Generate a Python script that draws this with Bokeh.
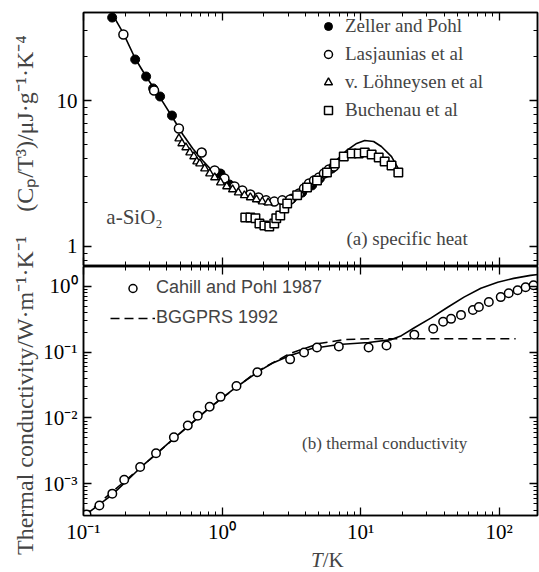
import math
from bokeh.plotting import figure
from bokeh.models import (Range1d, LogAxis, FixedTicker, CustomJSTickFormatter,
                          BasicTickFormatter, Label, Legend, LegendItem)
from bokeh.layouts import row, column
from bokeh.embed import file_html
from bokeh.resources import INLINE

SERIF = "Liberation Serif"
SANS = "Liberation Sans"

# ---------------- data: (a) specific heat C_p/T^3 ----------------
zp_T = [0.161, 0.236, 0.283, 0.318, 0.357, 0.435, 0.913, 0.975, 1.13, 3.20, 3.78, 4.46, 5.08, 5.71, 6.20]
zp_C = [37.0, 19.1, 14.6, 12.1, 10.65, 7.89, 3.21, 3.16, 2.66, 2.13, 2.34, 2.62, 2.92, 3.21, 3.42]

las_T = [0.194, 0.323, 0.488, 0.713, 0.884, 1.04, 1.23, 1.40, 1.60, 1.83, 2.08, 2.38, 2.72, 3.10,
         3.59, 3.90, 4.24, 4.61, 5.00, 5.43, 5.90, 6.41]
las_C = [28.3, 11.7, 6.43, 4.40, 3.32, 2.92, 2.58, 2.42, 2.27, 2.17, 2.07, 2.03, 2.07, 2.10,
         2.31, 2.50, 2.70, 2.83, 2.97, 3.16, 3.37, 3.53]

loh_T = [0.488, 0.513, 0.548, 0.585, 0.625, 0.657, 0.690, 0.749, 0.814, 0.884, 0.975, 1.08,
         1.19, 1.31, 1.45, 1.60, 1.77, 1.95, 2.15]
loh_C = [5.49, 5.08, 4.77, 4.40, 4.14, 3.82, 3.70, 3.42, 3.16, 2.97, 2.74, 2.58,
         2.46, 2.34, 2.24, 2.17, 2.10, 2.03, 2.00]

buc_T = [1.47, 1.60, 1.74, 1.86, 2.02, 2.19, 2.38, 2.46, 2.63, 2.81, 2.95, 3.48, 4.10, 4.84,
         5.71, 6.51, 7.55, 8.62, 9.68, 10.7, 12.0, 13.5, 14.9, 16.7, 18.7]
buc_C = [1.58, 1.58, 1.56, 1.44, 1.39, 1.37, 1.44, 1.56, 1.63, 1.82, 1.97, 2.24, 2.54, 2.83,
         3.21, 3.70, 4.14, 4.34, 4.34, 4.40, 4.27, 4.07, 3.82, 3.59, 3.21]

fitC_T = [0.159, 0.194, 0.236, 0.283, 0.356, 0.435, 0.521, 0.614, 0.724, 0.898, 1.09, 1.40,
          1.80, 2.30, 2.95, 3.78, 4.84, 6.20, 7.94, 9.36, 10.7, 12.4, 14.1, 16.7, 19.0]
fitC_C = [40.1, 28.8, 19.4, 14.6, 10.5, 7.77, 5.85, 4.69, 3.88, 3.11, 2.66, 2.31,
          2.10, 2.03, 2.10, 2.34, 2.83, 3.64, 4.55, 5.08, 5.32, 5.24, 4.84, 4.13, 3.32]

# ---------------- data: (b) thermal conductivity ----------------
cp_T = [0.1051, 0.1302, 0.1614, 0.1967, 0.2563, 0.3337, 0.449, 0.5657, 0.6675, 0.8135, 0.9754,
        1.270, 1.797, 3.097, 3.904, 4.838, 6.955, 11.41, 15.36, 24.39, 33.38, 39.36, 44.91,
        52.97, 64.57, 71.29, 84.10, 102.5, 117.0, 135.7, 154.9, 176.7]
cp_k = [3.44e-4, 4.70e-4, 7.11e-4, 1.152e-3, 1.805e-3, 2.925e-3, 5.08e-3, 7.69e-3, 1.086e-2,
        1.483e-2, 2.094e-2, 3.06e-2, 4.96e-2, 7.77e-2, 9.90e-2, 0.1176, 0.1217, 0.1176, 0.126,
        0.1842, 0.2266, 0.2886, 0.320, 0.3674, 0.4367, 0.4843, 0.5757, 0.684, 0.785, 0.871,
        0.966, 1.035]

fitK_T = [0.1, 0.1614, 0.2563, 0.449, 0.8135, 1.270, 1.797, 2.301, 3.097, 4.455, 6.955, 11.41,
          16.68, 19.68, 24.39, 32.28, 42.74, 55.67, 73.68, 97.54, 127.1, 168.2, 191.9]
fitK_k = [3.21e-4, 6.86e-4, 1.743e-3, 4.91e-3, 1.432e-2, 2.957e-2, 4.96e-2, 6.77e-2, 8.92e-2,
          0.1136, 0.1304, 0.1397, 0.155, 0.178, 0.2346, 0.3313, 0.4843, 0.684, 0.933, 1.148,
          1.318, 1.462, 1.513]

bg_T = [0.1, 0.2563, 0.8135, 1.797, 3.097, 5.00, 7.679, 11.41, 131.3]
bg_k = [3.21e-4, 1.743e-3, 1.432e-2, 0.0513, 0.0956, 0.135, 0.155, 0.160, 0.160]

# ---------------- tick definitions ----------------
x_major = [0.1, 1, 10, 100]
x_minor = [m * 10.0 ** e for e in range(-1, 3) for m in range(2, 10)]
ya_major = [1, 10]
ya_minor = [m * 10.0 ** e for e in range(-1, 2) for m in range(2, 10)]
yb_major = [1e-3, 1e-2, 1e-1, 1]
yb_minor = [m * 10.0 ** e for e in range(-4, 1) for m in range(2, 10)]

POW_CODE = """
const sup = {"-": "\u207b", "0": "\u2070", "1": "\u00b9", "2": "\u00b2", "3": "\u00b3", "4": "\u2074"};
const e = Math.round(Math.log10(tick));
return "10" + String(e).split("").map(c => sup[c]).join("");
"""

X_RANGE = (0.1, 188.8)
YB_RANGE = (3.31e-4, 1.995)


def style_axis(ax, show_labels, font_size="21px"):
    ax.major_tick_in = 8
    ax.major_tick_out = 0
    ax.minor_tick_in = 4
    ax.minor_tick_out = 0
    ax.axis_line_color = "black"
    ax.axis_line_width = 1.5
    ax.major_tick_line_color = "black"
    ax.major_tick_line_width = 1.3
    ax.minor_tick_line_color = "black"
    ax.minor_tick_line_width = 1
    if show_labels:
        ax.major_label_text_font = SERIF
        ax.major_label_text_font_size = font_size
        ax.major_label_text_color = "black"
    else:
        ax.formatter = CustomJSTickFormatter(code="return '';")
        ax.major_label_text_font_size = "2px"
        ax.major_label_standoff = 0


def make_panel(height, y_range, yticker, yfmt, top_border, bottom_border, xlabels):
    p = figure(width=499, height=height, x_axis_type="log", y_axis_type="log",
               x_range=Range1d(*X_RANGE), y_range=Range1d(*y_range),
               toolbar_location=None, output_backend="svg",
               min_border_left=40, min_border_right=2,
               min_border_top=top_border, min_border_bottom=bottom_border)
    p.title.visible = False
    p.grid.visible = False
    p.outline_line_color = "black"
    p.outline_line_width = 1.5
    xt = FixedTicker(ticks=x_major, minor_ticks=x_minor)
    xa = p.xaxis[0]
    xa.ticker = xt
    xa.formatter = CustomJSTickFormatter(code=POW_CODE)
    style_axis(xa, xlabels)
    if xlabels:
        xa.major_label_standoff = 4
    ya = p.yaxis[0]
    ya.ticker = yticker
    ya.formatter = yfmt
    style_axis(ya, True)
    ya.major_label_standoff = 6
    ax_r = LogAxis(ticker=yticker)
    style_axis(ax_r, False)
    p.add_layout(ax_r, "right")
    ax_t = LogAxis(ticker=xt)
    style_axis(ax_t, False)
    p.add_layout(ax_t, "above")
    return p


def blank_fig(w, h):
    f = figure(width=w, height=h, x_range=Range1d(0, w), y_range=Range1d(0, h),
               toolbar_location=None, output_backend="svg",
               x_axis_location=None, y_axis_location=None, min_border=0)
    f.title.visible = False
    f.grid.visible = False
    f.outline_line_color = None
    return f


# ---------------- panel (a) ----------------
pa = make_panel(266, (0.741, 40.07), FixedTicker(ticks=ya_major, minor_ticks=ya_minor),
                BasicTickFormatter(), 12, 1, False)

pa.line(fitC_T, fitC_C, line_color="black", line_width=1.6)
r_zp = pa.scatter(zp_T, zp_C, marker="circle", size=9, fill_color="black", line_color="black")
r_las = pa.scatter(las_T, las_C, marker="circle", size=9, fill_color="white",
                   line_color="black", line_width=1.5)
r_loh = pa.scatter(loh_T, loh_C, marker="triangle", size=8, fill_color="white",
                   line_color="black", line_width=1.4)
r_buc = pa.scatter(buc_T, buc_C, marker="square", size=8.5, fill_color="white",
                   line_color="black", line_width=1.5)

leg_a = Legend(items=[LegendItem(label="Zeller and Pohl", renderers=[r_zp]),
                      LegendItem(label="Lasjaunias et al", renderers=[r_las]),
                      LegendItem(label="v. Löhneysen et al", renderers=[r_loh]),
                      LegendItem(label="Buchenau et al", renderers=[r_buc])],
               location=(235, 144), padding=0, margin=0, spacing=6,
               glyph_width=20, glyph_height=20, label_height=20, label_standoff=7,
               label_text_font=SERIF, label_text_font_size="19px",
               background_fill_alpha=0, border_line_alpha=0)
pa.add_layout(leg_a)

pa.add_layout(Label(x=0.1462, y=1.58, text="a-SiO\u2082", text_font=SERIF,
                    text_font_size="21px", text_baseline="middle"))
pa.add_layout(Label(x=7.9, y=1.134, text="(a)  specific  heat", text_font=SERIF,
                    text_font_size="19px", text_baseline="middle"))

# ---------------- panel (b) ----------------
pb = make_panel(280, YB_RANGE, FixedTicker(ticks=yb_major, minor_ticks=yb_minor),
                CustomJSTickFormatter(code=POW_CODE), 0, 28, True)

r_bg = pb.line(bg_T, bg_k, line_color="black", line_width=1.5, line_dash="9 5")
pb.line(fitK_T, fitK_k, line_color="black", line_width=1.6)
r_cp = pb.scatter(cp_T, cp_k, marker="circle", size=8.5, fill_color="white",
                  line_color="black", line_width=1.5)

leg_b = Legend(items=[LegendItem(label="Cahill and Pohl 1987", renderers=[r_cp]),
                      LegendItem(label="BGGPRS 1992", renderers=[r_bg])],
               location=(27, 187), padding=0, margin=0, spacing=9,
               glyph_width=45, glyph_height=20, label_height=20, label_standoff=1,
               label_text_font=SANS, label_text_font_size="18px",
               background_fill_alpha=0, border_line_alpha=0)
pb.add_layout(leg_b)

pb.add_layout(Label(x=3.78, y=4.13e-3, text="(b)  thermal  conductivity", text_font=SERIF,
                    text_font_size="17px", text_baseline="middle"))

# ---------------- x-axis title strip ("T/K") ----------------
ptk = blank_fig(499, 26)
ptk.add_layout(Label(x=263, y=13, text="T", text_font=SERIF, text_font_style="italic",
                     text_font_size="21px", text_align="right", text_baseline="middle"))
ptk.add_layout(Label(x=263, y=13, text="/K", text_font=SERIF,
                     text_font_size="21px", text_align="left", text_baseline="middle"))

# ---------------- y-axis titles column ----------------
pl = blank_fig(40, 572)
pl.add_layout(Label(x=24, y=449, angle=math.pi / 2,
                    text="(C\u209a/T\u00b3)/\u03bcJ\u00b7g\u207b\u00b9\u00b7K\u207b\u2074",
                    text_font=SERIF, text_font_size="24px",
                    text_align="center", text_baseline="middle"))
pl.add_layout(Label(x=24, y=180, angle=math.pi / 2,
                    text="Thermal  conductivity/W\u00b7m\u207b\u00b9\u00b7K\u207b\u00b9",
                    text_font=SERIF, text_font_size="24px",
                    text_align="center", text_baseline="middle"))

layout = row(pl, column(pa, pb, ptk, spacing=0), spacing=0)

open("out.html", "w").write(file_html(layout, INLINE))
